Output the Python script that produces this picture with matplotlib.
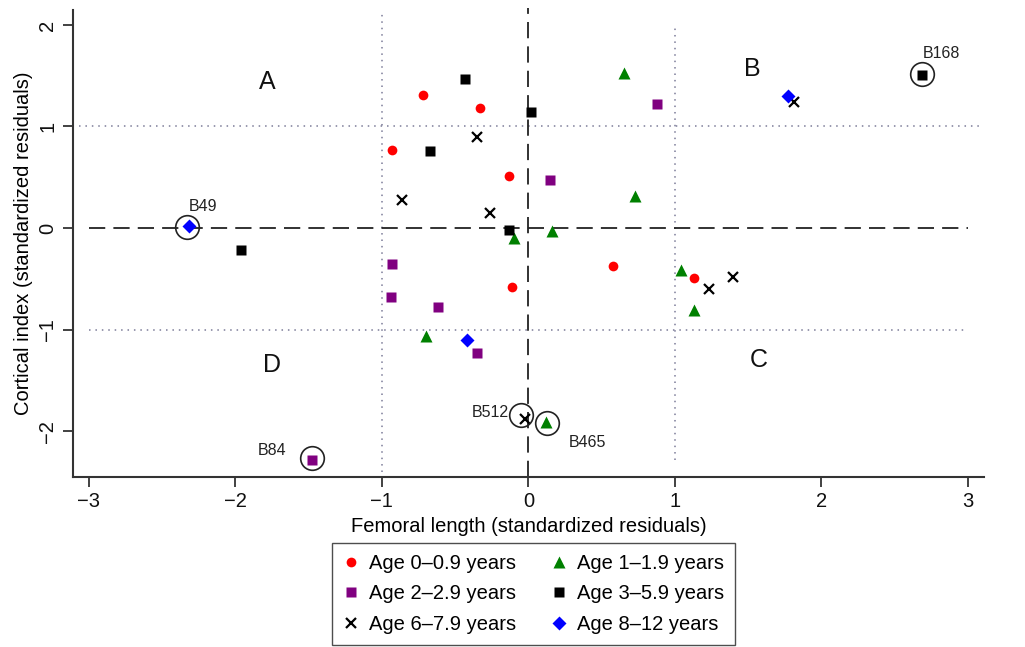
import matplotlib
matplotlib.use('Agg')
import matplotlib.pyplot as plt
from matplotlib.lines import Line2D

plt.rcParams['font.family'] = ['Liberation Sans', 'DejaVu Sans']

# ---- data (standardized residuals) ----
age0_x = [-0.72, -0.33, -0.93, -0.13, -0.11, 0.58, 1.13]
age0_y = [1.31, 1.18, 0.77, 0.51, -0.58, -0.37, -0.49]

age1_x = [0.65, 0.73, 0.16, -0.10, 1.04, 1.13, -0.70, 0.12]
age1_y = [1.53, 0.32, -0.03, -0.10, -0.41, -0.81, -1.06, -1.91]

age2_x = [0.88, 0.15, -0.93, -0.94, -0.62, -0.35, -1.48]
age2_y = [1.22, 0.47, -0.35, -0.68, -0.78, -1.23, -2.28]

age3_x = [-0.43, 0.02, -0.67, -0.13, -1.96, 2.69]
age3_y = [1.47, 1.14, 0.76, -0.02, -0.22, 1.51]

age6_x = [-0.35, -0.86, -0.26, 1.81, 1.23, 1.40, -0.02]
age6_y = [0.90, 0.28, 0.15, 1.24, -0.60, -0.48, -1.88]

age8_x = [-2.32, 1.77, -0.42]
age8_y = [0.02, 1.30, -1.10]

# highlighted specimens: ring centre and label position
ring_names = ['B49', 'B168', 'B84', 'B512', 'B465']
ring_x = [-2.33, 2.69, -1.48, -0.05, 0.13]
ring_y = [0.01, 1.52, -2.26, -1.84, -1.92]
label_x = [-2.22, 2.82, -1.75, -0.26, 0.40]
label_y = [0.21, 1.72, -2.19, -1.82, -2.11]

quad_names = ['A', 'B', 'C', 'D']
quad_x = [-1.78, 1.53, 1.57, -1.75]
quad_y = [1.44, 1.57, -1.30, -1.35]

FS = 14.5

fig = plt.figure(figsize=(10.25, 6.47), dpi=100)
ax = fig.add_axes([0.071, 0.263, 0.889, 0.722])
ax.set_xlim(-3.11, 3.11)
ax.set_ylim(-2.45, 2.15)

# reference lines
dot_c = '#7c7c98'
ax.plot([-3.07, 3.1], [1, 1], color=dot_c, lw=1.1, dashes=(1, 3.2), zorder=1)
ax.plot([-3.0, 3.0], [-1, -1], color=dot_c, lw=1.1, dashes=(1, 3.2), zorder=1)
ax.plot([-1, -1], [-2.4, 2.13], color=dot_c, lw=1.1, dashes=(1, 3.2), zorder=1)
ax.plot([1, 1], [-2.28, 2.0], color=dot_c, lw=1.1, dashes=(1, 3.2), zorder=1)
ax.plot([-3, 3], [0, 0], color='#222222', lw=1.3, dashes=(9, 4.5), zorder=1)
ax.plot([0, 0], [-2.45, 2.17], color='#222222', lw=1.3, dashes=(9, 4.5), zorder=1,
        clip_on=False)

ax.plot(age0_x, age0_y, 'o', color='red', ms=7, mec='none', zorder=3)
ax.plot(age1_x, age1_y, '^', color='green', ms=9, mec='none', zorder=3)
ax.plot(age2_x, age2_y, 's', color='purple', ms=7, mec='none', zorder=3)
ax.plot(age3_x, age3_y, 's', color='black', ms=7, mec='none', zorder=3)
ax.plot(age6_x, age6_y, 'x', color='black', ms=7, mew=1.6, zorder=3)
ax.plot(age8_x, age8_y, 'D', color='blue', ms=7, mec='none', zorder=3)

ax.plot(ring_x, ring_y, 'o', mfc='none', mec='#222222', ms=17, mew=1.2, zorder=4)
for name, lx, ly in zip(ring_names, label_x, label_y):
    ax.text(lx, ly, name, ha='center', va='center', fontsize=11.5, color='#222222')

for name, qx, qy in zip(quad_names, quad_x, quad_y):
    ax.text(qx, qy, name, ha='center', va='center', fontsize=18, color='#111111')

for side in ['top', 'right']:
    ax.spines[side].set_visible(False)
for side in ['left', 'bottom']:
    ax.spines[side].set_color('#333333')
    ax.spines[side].set_linewidth(1.5)

ax.set_xticks([-3, -2, -1, 0, 1, 2, 3])
ax.set_yticks([-2, -1, 0, 1, 2])
ax.set_xticklabels(['\u22123', '\u22122', '\u22121', '0', '1', '2', '3'])
ax.set_yticklabels(['\u22122', '\u22121', '0', '1', '2'], rotation=90, va='center')
ax.tick_params(axis='both', length=7, width=1.3, color='#333333', labelsize=FS,
               labelcolor='#111111', pad=4)

ax.set_xlabel('Femoral length (standardized residuals)', fontsize=FS, labelpad=4)
ax.set_ylabel('Cortical index (standardized residuals)', fontsize=FS, labelpad=4)

handles = [
    Line2D([], [], ls='none', marker='o', color='red', ms=7, mec='none'),
    Line2D([], [], ls='none', marker='s', color='purple', ms=7, mec='none'),
    Line2D([], [], ls='none', marker='x', color='black', ms=7, mew=1.6),
    Line2D([], [], ls='none', marker='^', color='green', ms=9, mec='none'),
    Line2D([], [], ls='none', marker='s', color='black', ms=7, mec='none'),
    Line2D([], [], ls='none', marker='D', color='blue', ms=7, mec='none'),
]
labels = ['Age 0\u20130.9 years', 'Age 2\u20132.9 years', 'Age 6\u20137.9 years',
          'Age 1\u20131.9 years', 'Age 3\u20135.9 years', 'Age 8\u201312 years']
leg = fig.legend(handles, labels, ncol=2, loc='upper center',
                 bbox_to_anchor=(0.5205, 0.161), borderaxespad=0,
                 fontsize=FS, frameon=True,
                 fancybox=False, edgecolor='#222222', handlelength=0.8,
                 handletextpad=0.5, columnspacing=1.7, labelspacing=0.57,
                 borderpad=0.55)
leg.get_frame().set_linewidth(1.0)

fig.savefig('out.png', dpi=100)
